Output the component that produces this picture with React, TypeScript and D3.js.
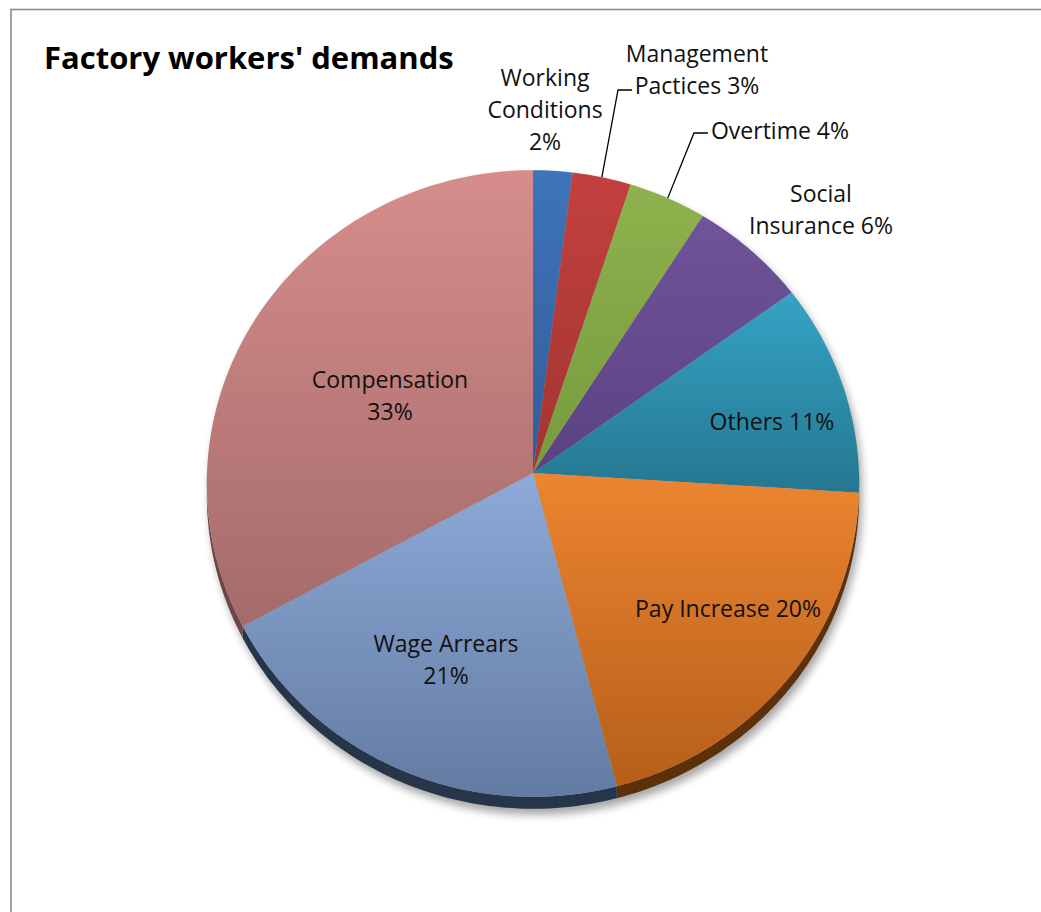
import React from "react";
import * as d3 from "d3";

const categories = [
  "Working Conditions",
  "Management Pactices",
  "Overtime",
  "Social Insurance",
  "Others",
  "Pay Increase",
  "Wage Arrears",
  "Compensation",
];
const values = [2, 3, 4, 6, 11, 20, 21, 33];
const labelLines = [
  ["Working", "Conditions", "2%"],
  ["Management", "Pactices 3%"],
  ["Overtime 4%"],
  ["Social", "Insurance 6%"],
  ["Others 11%"],
  ["Pay Increase 20%"],
  ["Wage Arrears", "21%"],
  ["Compensation", "33%"],
];
const topColors = ["#3f74ba", "#c2413e", "#8eb24d", "#70539a", "#36a3c5", "#ec8530", "#8eaad8", "#d68d8b"];
const bottomColors = ["#2f5d99", "#a33431", "#779a3d", "#5b4282", "#247790", "#b65e1a", "#627ba2", "#a46b6b"];
const sideColors = ["#1f3a5e", "#6a2220", "#4d6426", "#3a2a55", "#185466", "#5c3009", "#27354a", "#6e4646"];

// label anchor positions (layout)
const labelPos: [number, number][] = [
  [545, 86],
  [697, 62],
  [780, 139],
  [821, 202],
  [772, 430],
  [728, 617],
  [446, 652],
  [390, 388],
];
const leaderLabel: ([number, number] | null)[] = [null, [632, 90], [708, 133], null, null, null, null, null];

const W = 1041;
const H = 912;
const cx = 533;
const cy = 473;
const rx = 326;
const ry = 313;
const k = 0.0335;
const depth = 11.5;

function proj(phi: number, r = 1): [number, number] {
  const u = r * Math.sin(phi);
  const v = -r * Math.cos(phi);
  const s = 1 / (1 - k * v);
  return [cx + rx * u * s, cy + ry * v * s];
}
function sc(phi: number) {
  return 1 / (1 + k * Math.cos(phi));
}

function arcPts(a0: number, a1: number, dy = 0): [number, number][] {
  const n = Math.max(2, Math.ceil(((a1 - a0) * 180) / Math.PI));
  const pts: [number, number][] = [];
  for (let i = 0; i <= n; i++) {
    const a = a0 + ((a1 - a0) * i) / n;
    const p = proj(a);
    pts.push([p[0], p[1] + dy * sc(a)]);
  }
  return pts;
}

export default function App() {
  const pie = d3.pie<number>().sort(null).value((d) => d);
  const arcs = pie(values);
  const line = d3.line();
  const font = "'Open Sans', sans-serif";

  const topPaths = arcs.map((a) => {
    const pts: [number, number][] = [[cx, cy], ...arcPts(a.startAngle, a.endAngle)];
    return line(pts) + "Z";
  });

  const sidePaths = arcs.map((a) => {
    const b0 = Math.max(a.startAngle, Math.PI / 2);
    const b1 = Math.min(a.endAngle, (3 * Math.PI) / 2);
    if (b1 <= b0) return null;
    const up = arcPts(b0, b1);
    const down = arcPts(b0, b1, depth).reverse();
    return line([...up, ...down]) + "Z";
  });

  const outline = (() => {
    const top = arcPts(-Math.PI / 2, Math.PI / 2);
    const bottom = arcPts(Math.PI / 2, (3 * Math.PI) / 2, depth);
    return line([...bottom, ...top]) + "Z";
  })();

  const leaders = arcs.map((a, i) => {
    const l = leaderLabel[i];
    if (!l) return null;
    const mid = (a.startAngle + a.endAngle) / 2;
    const p = proj(mid);
    return line([l, [l[0] - 14, l[1]], p]);
  });

  return (
    <div style={{ position: "absolute", left: 0, top: 0 }}>
      <svg width={W} height={H} style={{ display: "block", background: "#fff" }}>
        <defs>
          {arcs.map((_, i) => (
            <linearGradient key={i} id={`g${i}`} x1="0" y1="0" x2="0" y2="1">
              <stop offset="0" stopColor={topColors[i]} />
              <stop offset="1" stopColor={bottomColors[i]} />
            </linearGradient>
          ))}
          <filter id="shadow" x="-10%" y="-10%" width="120%" height="120%">
            <feGaussianBlur stdDeviation="4" />
          </filter>
        </defs>
        <rect x={11} y={9.5} width={W + 20} height={H + 20} fill="none" stroke="#8a8a8a" strokeWidth={1.6} />
        <text x={44} y={69} fontFamily={font} fontWeight="bold" fontSize={31} fill="#000">
          Factory workers' demands
        </text>
        <path d={outline} fill="#000" opacity={0.35} transform="translate(3,6)" filter="url(#shadow)" />
        {sidePaths.map((d, i) => (d ? <path key={i} d={d} fill={sideColors[i]} /> : null))}
        {topPaths.map((d, i) => (
          <path key={i} d={d} fill={`url(#g${i})`} />
        ))}
        {leaders.map((d, i) => (d ? <path key={i} d={d} fill="none" stroke="#000" strokeWidth={1.3} /> : null))}
        {labelLines.map((lines, i) => (
          <text
            key={i}
            x={labelPos[i][0]}
            y={labelPos[i][1]}
            textAnchor="middle"
            fontFamily={font}
            fontSize={23}
            fill="#111"
          >
            {lines.map((t, j) => (
              <tspan key={j} x={labelPos[i][0]} y={labelPos[i][1] + j * 32}>
                {t}
              </tspan>
            ))}
          </text>
        ))}
      </svg>
    </div>
  );
}
